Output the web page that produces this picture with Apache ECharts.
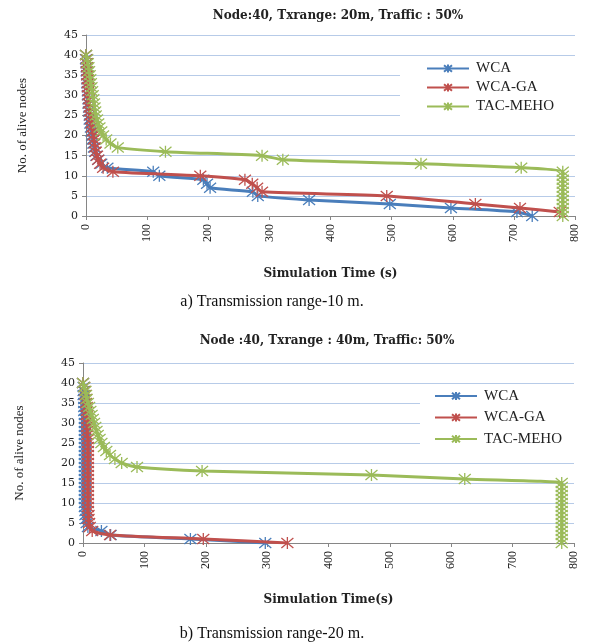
<!DOCTYPE html>
<html>
<head>
<meta charset="utf-8">
<script src="https://cdn.jsdelivr.net/npm/echarts@6/dist/echarts.min.js"></script>
<style>
html,body{margin:0;padding:0;background:#fff;}
#c{width:591px;height:644px;}
</style>
</head>
<body>
<div id="c"></div>
<script>
// ---------- Data: chart a (Txrange 20m) ----------
var seriesNames = ['WCA', 'WCA-GA', 'TAC-MEHO'];
var xTicks = [0, 100, 200, 300, 400, 500, 600, 700, 800];
var yTicks = [0, 5, 10, 15, 20, 25, 30, 35, 40, 45];

var wcaA_t = [0,0,1,1,1,2,2,2,3,3,3,4,4,5,5,6,6,7,8,9,10,11,12,13,15,17,20,25,35,110,120,192,198,203,273,281,365,497,597,705,730];
var wcaA_v = [40,39,38,37,36,35,34,33,32,31,30,29,28,27,26,25,24,23,22,21,20,19,18,17,16,15,14,13,12,11,10,9,8,7,6,5,4,3,2,1,0];

var gaA_t = [0,1,1,2,2,2,3,3,3,4,4,5,5,6,6,7,8,9,10,11,12,13,14,15,16,18,20,23,28,44,187,260,272,280,288,492,637,710,775];
var gaA_v = [40,39,38,37,36,35,34,33,32,31,30,29,28,27,26,25,24,23,22,21,20,19,18,17,16,15,14,13,12,11,10,9,8,7,6,5,3,2,1];

var tacA_t = [0,2,3,4,5,6,7,8,9,10,11,12,13,14,15,16,18,20,22,25,28,33,40,52,130,288,322,548,712,780,780,780,780,780,780,780,780,780,780,780,780];
var tacA_v = [40,39,38,37,36,35,34,33,32,31,30,29,28,27,26,25,24,23,22,21,20,19,18,17,16,15,14,13,12,11,10,9,8,7,6,5,4,3,2,1,0];

// ---------- Data: chart b (Txrange 40m) ----------
var wcaB_t = [0,1,1,1,2,2,2,2,3,3,3,3,3,3,3,3,3,3,3,3,3,3,3,3,3,3,3,3,3,3,3,3,4,4,5,6,8,30,45,175,297];
var wcaB_v = [40,39,38,37,36,35,34,33,32,31,30,29,28,27,26,25,24,23,22,21,20,19,18,17,16,15,14,13,12,11,10,9,8,7,6,5,4,3,2,1,0];

var gaB_t = [0,2,3,4,5,5,6,6,6,7,7,7,7,7,8,8,8,8,8,8,8,8,8,8,8,8,8,8,8,8,8,8,8,9,9,10,11,15,44,196,333];
var gaB_v = [40,39,38,37,36,35,34,33,32,31,30,29,28,27,26,25,24,23,22,21,20,19,18,17,16,15,14,13,12,11,10,9,8,7,6,5,4,3,2,1,0];

var tacB_t = [0,2,4,5,6,8,10,12,14,16,18,20,22,24,27,30,34,38,44,52,63,88,194,470,622,780,780,780,780,780,780,780,780,780,780,780,780,780,780,780,780];
var tacB_v = [40,39,38,37,36,35,34,33,32,31,30,29,28,27,26,25,24,23,22,21,20,19,18,17,16,15,14,13,12,11,10,9,8,7,6,5,4,3,2,1,0];

// ---------- Texts ----------
var titleA = 'Node:40, Txrange: 20m, Traffic : 50%';
var titleB = 'Node :40, Txrange : 40m, Traffic: 50%';
var captionA = 'a) Transmission range-10 m.';
var captionB = 'b) Transmission range-20 m.';
var yName = 'No. of alive nodes';
var xNameA = 'Simulation Time (s)';
var xNameB = 'Simulation Time(s)';

var colors = ['#4a7ebb', '#c0504d', '#9bbb59'];
var FONT = '"Liberation Serif", "Times New Roman", serif';
var WIDE = '"DejaVu Serif", serif';
var STAR = 'path://M0 0L20 20M0 20L20 0M10 -2L10 22';

function zip(t, v) { return t.map(function (x, i) { return [x, v[i]]; }); }

function mkSeries(name, idx, t, v, axisIdx) {
  return {
    name: name,
    type: 'line',
    xAxisIndex: axisIdx,
    yAxisIndex: axisIdx,
    data: zip(t, v),
    smooth: 0.25,
    symbol: STAR,
    symbolSize: 12,
    showSymbol: true,
    color: colors[idx],
    lineStyle: { width: 3, color: colors[idx] },
    itemStyle: { color: colors[idx], borderColor: colors[idx], borderWidth: 1.3 },
    emphasis: { disabled: true },
    animation: false,
    z: 2 + idx
  };
}

function xAxis(gridIndex, name, gap) {
  return {
    type: 'value', gridIndex: gridIndex, min: 0, max: 800, interval: 100,
    name: name, nameLocation: 'middle', nameGap: gap,
    nameTextStyle: { fontFamily: WIDE, fontSize: 12, fontWeight: 'bold', color: '#222' },
    axisLine: { lineStyle: { color: '#868686', width: 1 } },
    axisTick: { show: true, inside: false, length: 4, lineStyle: { color: '#868686' } },
    axisLabel: { rotate: 90, fontFamily: FONT, fontSize: 12, color: '#222', margin: 8,
      formatter: function (v) { return xTicks.indexOf(v) >= 0 ? String(v) : ''; } },
    splitLine: { show: false }
  };
}
function yAxis(gridIndex) {
  return {
    type: 'value', gridIndex: gridIndex, min: 0, max: 45, interval: 5,
    name: yName, nameLocation: 'middle', nameGap: 57, nameRotate: 90,
    nameTextStyle: { fontFamily: FONT, fontSize: 13, color: '#222' },
    axisLine: { show: true, lineStyle: { color: '#868686', width: 1 } },
    axisTick: { show: true, inside: false, length: 4, lineStyle: { color: '#868686' } },
    axisLabel: { fontFamily: WIDE, fontSize: 11, color: '#222', margin: 8,
      formatter: function (v) { return yTicks.indexOf(v) >= 0 ? String(v) : ''; } },
    splitLine: { show: true, lineStyle: { color: '#b7cbe8', width: 1 } }
  };
}

function legend(left, top, gap, padding) {
  return {
    orient: 'vertical', left: left, top: top,
    data: seriesNames,
    itemWidth: 42, itemHeight: 10, itemGap: gap,
    padding: padding,
    backgroundColor: '#ffffff',
    textStyle: { fontFamily: FONT, fontSize: 15, color: '#222', padding: [0, 0, 0, 2] },
    lineStyle: { width: 2 },
    selectedMode: false
  };
}

var chart = echarts.init(document.getElementById('c'), null, { renderer: 'canvas' });
chart.setOption({
  backgroundColor: '#ffffff',
  animation: false,
  title: [
    { text: titleA, left: 333, top: 5, textAlign: 'center',
      textStyle: { fontFamily: WIDE, fontSize: 12, fontWeight: 'bold', color: '#222' } },
    { text: titleB, left: 322, top: 330, textAlign: 'center',
      textStyle: { fontFamily: WIDE, fontSize: 12, fontWeight: 'bold', color: '#222' } },
    { text: captionA, left: 267, top: 289, textAlign: 'center',
      textStyle: { fontFamily: FONT, fontSize: 16, fontWeight: 'normal', color: '#111' } },
    { text: captionB, left: 267, top: 621, textAlign: 'center',
      textStyle: { fontFamily: FONT, fontSize: 16, fontWeight: 'normal', color: '#111' } }
  ],
  legend: [
    legend(400, 57, 4, [4, 30, 10, 26]),
    legend(420, 385, 6.5, [3.5, 20, 10, 14])
  ],
  grid: [
    { left: 86, top: 35, width: 489, height: 181, containLabel: false },
    { left: 83, top: 363, width: 491, height: 180, containLabel: false }
  ],
  xAxis: [xAxis(0, xNameA, 52), xAxis(1, xNameB, 51)],
  yAxis: [yAxis(0), yAxis(1)],
  series: [
    mkSeries('WCA', 0, wcaA_t, wcaA_v, 0),
    mkSeries('WCA-GA', 1, gaA_t, gaA_v, 0),
    mkSeries('TAC-MEHO', 2, tacA_t, tacA_v, 0),
    mkSeries('WCA', 0, wcaB_t, wcaB_v, 1),
    mkSeries('WCA-GA', 1, gaB_t, gaB_v, 1),
    mkSeries('TAC-MEHO', 2, tacB_t, tacB_v, 1)
  ]
});
</script>
</body>
</html>
